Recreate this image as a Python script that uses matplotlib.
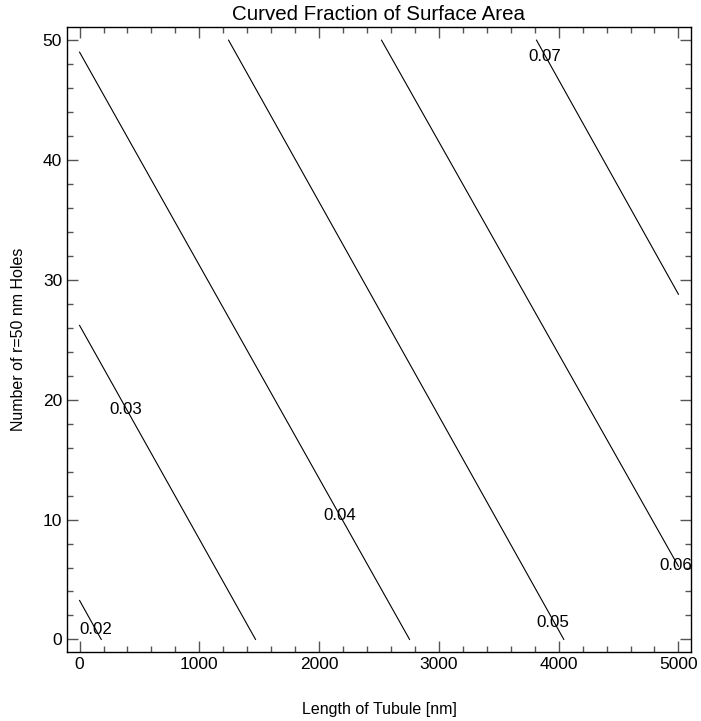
import matplotlib
matplotlib.use('Agg')
import matplotlib.pyplot as plt
from matplotlib.ticker import MultipleLocator

plt.rcParams['font.family'] = ['Liberation Sans', 'DejaVu Sans']

# Konturlinien: Niveau, Anfangs- und Endpunkt (Laenge [nm], Anzahl Loecher)
levels = [0.02, 0.03, 0.04, 0.05, 0.06, 0.07]
x_start = [0, 0, 0, 1244, 2521, 3815]
y_start = [3.25, 26.2, 49.0, 50, 50, 50]
x_end = [181, 1469, 2755, 4043, 5000, 5000]
y_end = [0, 0, 0, 0, 6.1, 28.8]

# Positionen der Beschriftungen
label_x = [134, 384, 2173, 3954, 4975, 3887]
label_y = [0.8, 19.2, 10.3, 1.4, 6.2, 48.6]

fig = plt.figure(figsize=(7.01, 7.21), dpi=100)
ax = fig.add_axes([67 / 701, 1 - 652 / 721, 624 / 701, 625 / 721])

for i, lev in enumerate(levels):
    ax.plot([x_start[i], x_end[i]], [y_start[i], y_end[i]], color='black', lw=0.8)
    ax.text(label_x[i], label_y[i], '%.2f' % lev, ha='center', va='center', fontsize=12.2)

ax.set_xlim(-105, 5105)
ax.set_ylim(-1.05, 51.1)
ax.xaxis.set_major_locator(MultipleLocator(1000))
ax.xaxis.set_minor_locator(MultipleLocator(200))
ax.yaxis.set_major_locator(MultipleLocator(10))
ax.yaxis.set_minor_locator(MultipleLocator(2))
ax.tick_params(which='both', direction='in', top=True, right=True, color='#555555', labelsize=12.5)
ax.tick_params(which='major', length=8, width=1)
ax.tick_params(which='minor', length=4, width=1)
for s in ax.spines.values():
    s.set_linewidth(1.0)

ax.set_xlabel('Length of Tubule [nm]', fontsize=11.5, labelpad=22)
ax.set_ylabel('Number of r=50 nm Holes', fontsize=11.5, labelpad=12)
ax.set_title('Curved Fraction of Surface Area', fontsize=14.8, pad=5)

plt.savefig('out.png', dpi=100)
